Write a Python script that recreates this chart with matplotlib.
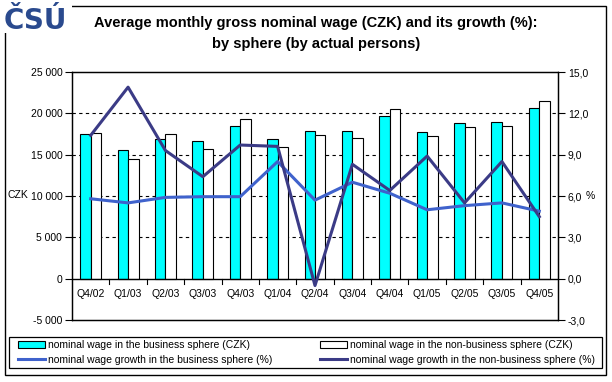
import matplotlib.pyplot as plt
from matplotlib.patches import Rectangle
from matplotlib.lines import Line2D
import numpy as np

plt.rcParams['font.family'] = ['Liberation Sans', 'DejaVu Sans']

quarters = ["Q4/02", "Q1/03", "Q2/03", "Q3/03", "Q4/03", "Q1/04", "Q2/04",
            "Q3/04", "Q4/04", "Q1/05", "Q2/05", "Q3/05", "Q4/05"]
wage_business = [17500, 15560, 16850, 16650, 18460, 16890, 17860,
                 17860, 19670, 17740, 18830, 18950, 20640]
wage_nonbusiness = [17620, 14470, 17500, 15680, 19310, 15920, 17370,
                    17010, 20520, 17250, 18340, 18460, 21490]
growth_business = [5.8, 5.5, 5.9, 5.95, 5.95, 8.5, 5.7,
                   7.0, 6.2, 5.0, 5.3, 5.5, 4.9]
growth_nonbusiness = [10.4, 13.9, 9.3, 7.4, 9.7, 9.6, -0.5,
                      8.3, 6.4, 8.9, 5.5, 8.5, 4.5]

c_bus_line = '#3f62cc'
c_non_line = '#3b3b86'

fig = plt.figure(figsize=(6.12, 3.82), dpi=100)
ax = fig.add_axes([72/612, 1-320/382, 486/612, 248/382])
ax2 = ax.twinx()

x = np.arange(len(quarters))
w = 0.28
ax.bar(x - w/2, wage_business, w, color='#00ffff', edgecolor='black', linewidth=0.8, zorder=3)
ax.bar(x + w/2, wage_nonbusiness, w, color='white', edgecolor='black', linewidth=0.8, zorder=3)

ax.set_xlim(-0.5, len(quarters) - 0.5)
ax.set_ylim(-5000, 25000)
ax.set_yticks(range(-5000, 25001, 5000))
ax.set_yticklabels([f"{v:,}".replace(",", " ") for v in range(-5000, 25001, 5000)])
for v in [5000, 10000, 15000, 20000]:
    ax.axhline(v, color='black', lw=0.8, ls=(0, (3, 3)), zorder=1)
ax.axhline(0, color='black', lw=1, zorder=4)
ax.set_xticks([])
for b in np.arange(0.5, len(quarters) - 1, 1):
    ax.plot([b, b], [0, -600], color='black', lw=0.8, zorder=4, clip_on=False)
for i, q in enumerate(quarters):
    ax.text(i, -1900, q, ha='center', va='center', fontsize=7.5)

ax2.plot(x, growth_business, color=c_bus_line, lw=2.2, zorder=5)
ax2.plot(x, growth_nonbusiness, color=c_non_line, lw=2.2, zorder=5)
ax2.set_ylim(-3, 15)
ax2.set_yticks(np.arange(-3, 15.1, 3))
ax2.set_yticklabels([f"{v:.1f}".replace(".", ",") for v in np.arange(-3, 15.1, 3)])

for a in (ax, ax2):
    a.tick_params(axis='y', labelsize=7.5, length=5, width=0.8, pad=2)
    for s in a.spines.values():
        s.set_linewidth(0.9)

fig.text(8/612, 1-195/382, "CZK", fontsize=7.5, ha='left', va='center')
fig.text(590/612, 1-196/382, "%", fontsize=7.5, ha='center', va='center')

# outer frame
fig.patches.append(Rectangle((5/612, 1-375/382), 601/612, 369/382, transform=fig.transFigure,
                             fill=False, edgecolor='black', lw=1))
# logo
fig.patches.append(Rectangle((0, 1-33/382), 72/612, 33/382, transform=fig.transFigure,
                             facecolor='white', edgecolor='none'))
fig.text(4/612, 1-21/382, "ČSÚ", fontsize=20, fontweight='heavy', color='#2a4a8e',
         ha='left', va='center', family='DejaVu Sans')

fig.text(316/612, 1-23/382, "Average monthly gross nominal wage (CZK) and its growth (%):",
         fontsize=10.5, fontweight='bold', ha='center', va='center')
fig.text(316/612, 1-44/382, "by sphere (by actual persons)",
         fontsize=10.5, fontweight='bold', ha='center', va='center')

# legend frame
fig.patches.append(Rectangle((9/612, 1-368/382), 593/612, 31/382, transform=fig.transFigure,
                             fill=False, edgecolor='black', lw=0.9))
handles = [Rectangle((0, 0), 1, 1, facecolor='#00ffff', edgecolor='black', lw=0.8),
           Rectangle((0, 0), 1, 1, facecolor='white', edgecolor='black', lw=0.8),
           Line2D([], [], color=c_bus_line, lw=2.2),
           Line2D([], [], color=c_non_line, lw=2.2)]
labels = ["nominal wage in the business sphere (CZK)",
          "nominal wage in the non-business sphere (CZK)",
          "nominal wage growth in the business sphere (%)",
          "nominal wage growth in the non-business sphere (%)"]
order = [0, 2, 1, 3]
leg = fig.legend([handles[i] for i in order], [labels[i] for i in order], ncol=2,
                 loc='center left', bbox_to_anchor=(16/612, 1-368/382, 581/612, 31/382),
                 mode='expand', fontsize=7.5, frameon=False,
                 handlelength=2.6, handleheight=0.6,
                 handletextpad=0.3, borderpad=0.2, labelspacing=0.45,
                 borderaxespad=0, columnspacing=1.0)

fig.savefig('out.png', dpi=100)
